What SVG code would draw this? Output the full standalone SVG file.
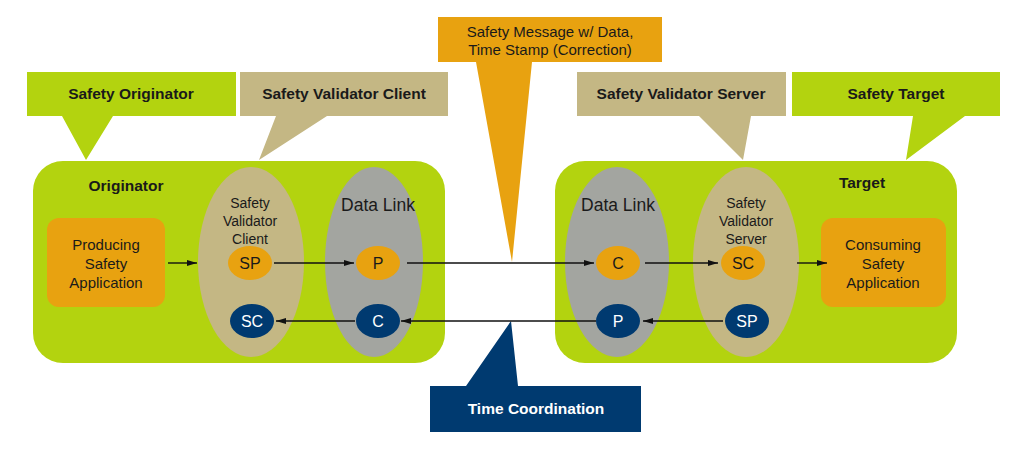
<svg xmlns="http://www.w3.org/2000/svg" width="1024" height="454" viewBox="0 0 1024 454">
<style>
text{font-family:"Liberation Sans",Arial,sans-serif;fill:#1a1a1a;text-anchor:middle}
.b{font-weight:bold;font-size:15.5px}
.r{font-size:15px}
.v{font-size:14px}
.n{font-size:16px}
.dl{font-size:17.5px}
.w{fill:#fff}
.grn{fill:#b3d30f}
.tan{fill:#c4b784}
.org{fill:#e8a210}
.gry{fill:#a3a5a0}
.blu{fill:#003a70}
.ln{stroke:#111;stroke-width:1.4;fill:none;marker-end:url(#ah)}
</style>
<defs>
<marker id="ah" viewBox="0 0 10 6" refX="10" refY="3" markerWidth="11" markerHeight="6" markerUnits="userSpaceOnUse" orient="auto">
<path d="M0,0 L10,3 L0,6 Z" fill="#111"/>
</marker>
</defs>
<rect width="1024" height="454" fill="#fff"/>

<g id="callout-safety-message">
<path class="org" d="M438,17 H662 V62 H532 L512,262 L476,62 H438 Z"/>
<text class="r" x="550" y="37">Safety Message w/ Data,</text>
<text class="r" x="550" y="55">Time Stamp (Correction)</text>
</g>
<g id="callout-time-coordination">
<path class="blu" d="M430,386 H466 L511,321 L518,386 H641 V432 H430 Z"/>
<text class="b w" x="536" y="414">Time Coordination</text>
</g>

<g id="originator">
<rect class="grn" x="33" y="161" width="412" height="202" rx="30"/>
<text class="b" x="126" y="191">Originator</text>
</g>
<g id="target">
<rect class="grn" x="555" y="161" width="402" height="202" rx="30"/>
<text class="b" x="862" y="188">Target</text>
</g>

<g id="callout-safety-originator">
<path class="grn" d="M27,72 H236 V116 H113 L86,160 L62,116 H27 Z"/>
<text class="b" x="131" y="99">Safety Originator</text>
</g>
<g id="callout-svc">
<path class="tan" d="M240,72 H448 V116 H327 L259,160 L276,116 H240 Z"/>
<text class="b" x="344" y="99">Safety Validator Client</text>
</g>
<g id="callout-svs">
<path class="tan" d="M577,72 H786 V116 H751 L743,160 L699,116 H577 Z"/>
<text class="b" x="681" y="99">Safety Validator Server</text>
</g>
<g id="callout-safety-target">
<path class="grn" d="M792,72 H1000 V116 H965 L906,160 L913,116 H792 Z"/>
<text class="b" x="896" y="99">Safety Target</text>
</g>

<g id="producing-app">
<rect class="org" x="47" y="218" width="118" height="89" rx="12"/>
<text class="r" x="106" y="250">Producing</text>
<text class="r" x="106" y="269">Safety</text>
<text class="r" x="106" y="288">Application</text>
</g>
<g id="svc-ellipse">
<ellipse class="tan" cx="251" cy="262" rx="53" ry="95"/>
<text class="v" x="250" y="208">Safety</text>
<text class="v" x="250" y="226">Validator</text>
<text class="v" x="250" y="244">Client</text>
</g>
<g id="datalink-left">
<ellipse class="gry" cx="374" cy="262" rx="49" ry="95"/>
<text class="dl" x="378" y="211">Data Link</text>
</g>
<g id="datalink-right">
<ellipse class="gry" cx="617" cy="262" rx="52" ry="95"/>
<text class="dl" x="618" y="211">Data Link</text>
</g>
<g id="svs-ellipse">
<ellipse class="tan" cx="746" cy="262" rx="53" ry="95"/>
<text class="v" x="746" y="208">Safety</text>
<text class="v" x="746" y="226">Validator</text>
<text class="v" x="746" y="244">Server</text>
</g>
<g id="consuming-app">
<rect class="org" x="821" y="218" width="125" height="89" rx="12"/>
<text class="r" x="883" y="250">Consuming</text>
<text class="r" x="883" y="269">Safety</text>
<text class="r" x="883" y="288">Application</text>
</g>

<g id="o-sp"><ellipse class="org" cx="250" cy="263" rx="22" ry="17"/><text class="n" x="250" y="269">SP</text></g>
<g id="o-p"><ellipse class="org" cx="378" cy="263" rx="22" ry="17"/><text class="n" x="378" y="269">P</text></g>
<g id="o-sc"><ellipse class="blu" cx="252" cy="321" rx="22" ry="17"/><text class="n w" x="252" y="327">SC</text></g>
<g id="o-c"><ellipse class="blu" cx="378" cy="321" rx="22" ry="17"/><text class="n w" x="378" y="327">C</text></g>
<g id="t-c"><ellipse class="org" cx="618" cy="263" rx="22" ry="17"/><text class="n" x="618" y="269">C</text></g>
<g id="t-sc"><ellipse class="org" cx="743" cy="263" rx="22" ry="17"/><text class="n" x="743" y="269">SC</text></g>
<g id="t-p"><ellipse class="blu" cx="618" cy="321" rx="22" ry="17"/><text class="n w" x="618" y="327">P</text></g>
<g id="t-sp"><ellipse class="blu" cx="747" cy="321" rx="22" ry="17"/><text class="n w" x="747" y="327">SP</text></g>

<g id="connectors">
<path class="ln" d="M168,263 H197"/>
<path class="ln" d="M274,263 H354"/>
<path class="ln" d="M407,263 H594"/>
<path class="ln" d="M645,263 H718"/>
<path class="ln" d="M797,263 H827"/>
<path class="ln" d="M723,321 H643"/>
<path class="ln" d="M596,321 H401"/>
<path class="ln" d="M355,321 H276"/>
</g>
</svg>
